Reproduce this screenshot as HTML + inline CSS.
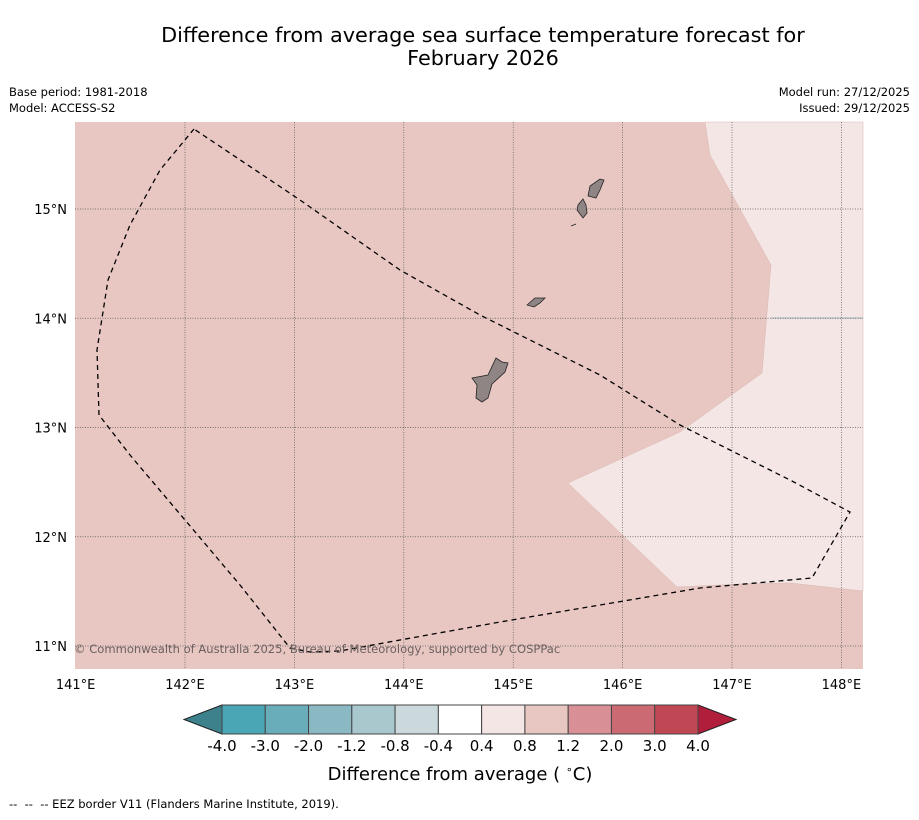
<!DOCTYPE html>
<html><head><meta charset="utf-8"><style>
body{margin:0;background:#fff;font-family:"DejaVu Sans","Liberation Sans",sans-serif}
svg text{font-family:"DejaVu Sans","Liberation Sans",sans-serif}
</style></head><body>
<svg id="chart" width="919" height="816" xmlns="http://www.w3.org/2000/svg">
<rect width="919" height="816" fill="#fff"/>
<text x="483" y="42" font-size="20.8" text-anchor="middle">Difference from average sea surface temperature forecast for</text>
<text x="483" y="65" font-size="20.8" text-anchor="middle">February 2026</text>
<text x="9" y="96" font-size="11.5">Base period: 1981-2018</text>
<text x="9" y="112" font-size="11.5">Model: ACCESS-S2</text>
<text x="910" y="96" font-size="11.5" text-anchor="end">Model run: 27/12/2025</text>
<text x="910" y="112" font-size="11.5" text-anchor="end">Issued: 29/12/2025</text>
<g id="map">
<rect x="75" y="122" width="788" height="547" fill="#e8c7c2"/>
<polygon fill="#f4e6e4" stroke="#d9b8b3" stroke-width="0.5" points="705,122 710,155 771,265 762,373 680,432 568,483 677,587 740,584 790,583 863,591 863,122"/>
<line x1="771" y1="318" x2="863" y2="318" stroke="#9fb8c8" stroke-width="1"/>
<g id="grid"></g>
<polyline fill="none" stroke="#000" stroke-width="1.3" stroke-dasharray="5,4" points="194,129 160,170 130,225 108,280 97,350 99,415 130,455 185,520 240,585 290,648 310,652 340,651 400,640 500,622 600,605 700,588 812,578 850,512 790,480 680,425 600,375 520,335 480,315 400,270 300,200 194,129"/>
<g fill="#8f8584" stroke="#222" stroke-width="0.8">
<polygon points="472,378 488,375 496,358 502,362 508,363 505,372 492,384 488,398 482,402 476,398 477,385"/>
<polygon points="527,305 535,298 545,298 540,303 534,307"/>
<polygon points="578,205 583,199 586,205 587,213 583,218 577,210"/>
<polygon points="588,196 590,186 600,179 604,180 600,190 596,198"/>
<line x1="571" y1="226" x2="576" y2="224"/>
</g>
<text x="74" y="653" font-size="11.55" fill="#6b6160">© Commonwealth of Australia 2025, Bureau of Meteorology, supported by COSPPac</text>
</g>
<g id="axes"></g>
<g id="colorbar"></g>
<text x="460" y="780" font-size="18" text-anchor="middle">Difference from average ( <tspan font-size="11" dy="-7">∘</tspan><tspan dy="7">C)</tspan></text>
<text x="9" y="808" font-size="11.5" style="white-space:pre" xml:space="preserve">--  --  -- EEZ border V11 (Flanders Marine Institute, 2019).</text>
</svg>
<script>
const lonTicks=[141,142,143,144,145,146,147,148];
const latTicks=[15,14,13,12,11];
const cbLevels=[-4.0,-3.0,-2.0,-1.2,-0.8,-0.4,0.4,0.8,1.2,2.0,3.0,4.0];
const cbLabels=["-4.0","-3.0","-2.0","-1.2","-0.8","-0.4","0.4","0.8","1.2","2.0","3.0","4.0"];
const cbColors=["#4aa5b5","#6aadba","#8ab9c4","#a9c8cd","#cbd9dd","#ffffff","#f4e6e4","#e8c7c2","#d88f96","#cc6a74","#c04855"];
const NS="http://www.w3.org/2000/svg";
const xLon=l=>75.6+(l-141)*109.4;
const yLat=l=>209-(l-15)*109.25;
function mk(t,a,p){const e=document.createElementNS(NS,t);for(const k in a)e.setAttribute(k,a[k]);p.appendChild(e);return e;}
const grid=document.getElementById('grid'),axes=document.getElementById('axes'),cb=document.getElementById('colorbar');
lonTicks.forEach(l=>{const x=xLon(l);
 if(l>141){const g=mk('line',{x1:x,y1:122,x2:x,y2:669,stroke:'#555','stroke-width':0.7,'stroke-dasharray':'1,1.5'},grid);
 
 }
 const t=mk('text',{x:x,y:689,'font-size':13,'text-anchor':'middle'},axes);t.textContent=l+'°E';
 
 });
latTicks.forEach(l=>{const y=yLat(l);
 const g=mk('line',{x1:75,y1:y,x2:863,y2:y,stroke:'#555','stroke-width':0.7,'stroke-dasharray':'1,1.5'},grid);
 
 
 const t=mk('text',{x:67,y:y+5,'font-size':13,'text-anchor':'end'},axes);t.textContent=l+'°N';
 
 });
const cx0=222,cx1=698,cy=705,ch=29;
const cxs=i=>cx0+i*(cx1-cx0)/(cbLevels.length-1);
const lt=mk('polygon',{points:`${cx0},${cy} 184,${cy+ch/2} ${cx0},${cy+ch}`,fill:'#3c818c',stroke:'#222'},cb);


const rt=mk('polygon',{points:`${cx1},${cy} 736,${cy+ch/2} ${cx1},${cy+ch}`,fill:'#b01e3c',stroke:'#222'},cb);


cbColors.forEach((c,i)=>{const r=mk('rect',{x:cxs(i),y:cy,width:cxs(i+1)-cxs(i),height:ch,fill:c,stroke:'#444','stroke-width':1},cb);
 
 });
cbLabels.forEach((s,i)=>{const t=mk('text',{x:cxs(i),y:751,'font-size':15,'text-anchor':'middle'},cb);t.textContent=s;
 
 });
</script>
</body></html>
